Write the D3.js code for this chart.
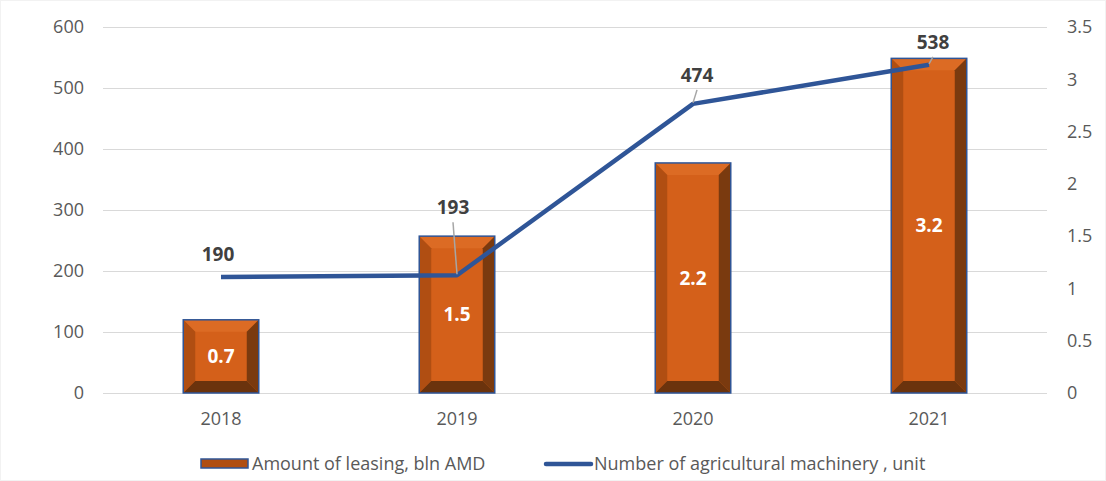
<!DOCTYPE html>
<html><head><meta charset="utf-8">
<script src="https://cdn.jsdelivr.net/npm/d3@7"></script>
<style>body{margin:0;background:#fff}svg{display:block}text{font-family:"Open Sans","Noto Sans",sans-serif}</style>
</head><body>
<svg id="c" width="1106" height="481"></svg>
<script>
const years = ["2018","2019","2020","2021"];
const leasing = [0.7, 1.5, 2.2, 3.2];
const machinery = [190, 193, 474, 538];
const leftTicks = [0,100,200,300,400,500,600];
const rightTicks = [0,0.5,1,1.5,2,2.5,3,3.5];
const leasingName = "Amount of leasing, bln AMD";
const machineryName = "Number of agricultural machinery , unit";

const svg = d3.select("#c");
const m = {l:103, r:1047, t:27, b:393};
const x = d3.scaleBand().domain(years).range([m.l, m.r]).paddingInner(0.68).paddingOuter(0.34);
const yL = d3.scaleLinear().domain([0,600]).range([m.b, m.t]);
const yR = d3.scaleLinear().domain([0,3.5]).range([m.b, m.t]);

svg.append("rect").attr("x",0.5).attr("y",0.5).attr("width",1105).attr("height",480).attr("fill","#fff").attr("stroke","#f2f2f2");

svg.append("g").selectAll("line").data(leftTicks).join("line")
  .attr("x1",m.l).attr("x2",m.r).attr("y1",d=>yL(d)+0.5).attr("y2",d=>yL(d)+0.5)
  .attr("stroke","#d9d9d9").attr("stroke-width",1);

const gl = svg.append("g").attr("transform",`translate(${m.l-19},0)`)
  .call(d3.axisLeft(yL).tickValues(leftTicks).tickSize(0).tickPadding(0));
const gr = svg.append("g").attr("transform",`translate(${m.r+20},0)`)
  .call(d3.axisRight(yR).tickValues(rightTicks).tickSize(0).tickPadding(0).tickFormat(d3.format("")));
const gx = svg.append("g").attr("transform",`translate(0,${m.b+19})`)
  .call(d3.axisBottom(x).tickSize(0).tickPadding(0));
[gl,gr,gx].forEach(g=>{g.select(".domain").remove();g.selectAll("text").attr("fill","#595959").style("font-size","18px");});
gx.selectAll("text").attr("dy","0.71em");

const bw = x.bandwidth(), bev = 12;
const bars = svg.append("g").selectAll("g").data(years).join("g");
bars.each(function(d,i){
  const g = d3.select(this);
  const x0 = x(d), x1 = x0+bw, y0 = yR(leasing[i]), y1 = m.b;
  const b = Math.min(bev, (y1-y0)/3);
  g.append("rect").attr("x",x0).attr("y",y0).attr("width",bw).attr("height",y1-y0).attr("fill","#D4601A");
  g.append("polygon").attr("points",[[x0,y0],[x1,y0],[x1-b,y0+b],[x0+b,y0+b]].join(" ")).attr("fill","#DC6B24");
  g.append("polygon").attr("points",[[x0,y0],[x0+b,y0+b],[x0+b,y1-b],[x0,y1]].join(" ")).attr("fill","#B04E12");
  g.append("polygon").attr("points",[[x1,y0],[x1,y1],[x1-b,y1-b],[x1-b,y0+b]].join(" ")).attr("fill","#7A3A0F");
  g.append("polygon").attr("points",[[x0,y1],[x0+b,y1-b],[x1-b,y1-b],[x1,y1]].join(" ")).attr("fill","#6B330D");
  g.append("rect").attr("x",x0).attr("y",y0).attr("width",bw).attr("height",y1-y0).attr("fill","none").attr("stroke","#2F5597").attr("stroke-width",1.5);
  g.append("text").attr("x",x0+bw/2).attr("y",(y0+y1)/2).attr("dy","0.35em").attr("text-anchor","middle")
    .attr("fill","#fff").style("font-size","19px").style("font-weight","bold").text(leasing[i]);
});

const cx = d=>x(d)+bw/2;
const line = d3.line().x((d,i)=>cx(years[i])).y(d=>yL(d));
svg.append("path").datum(machinery).attr("d",line).attr("fill","none")
  .attr("stroke","#2F5597").attr("stroke-width",4.5).attr("stroke-linejoin","round");

const labOff = [[-3,-16,false],[-4,-61,true],[4,-22,true],[4,-16,true]];
machinery.forEach((v,i)=>{
  const px = cx(years[i]), py = yL(v);
  const [dx,dy,lead] = labOff[i];
  if(lead){
    svg.append("line").attr("x1",px+dx).attr("y1",py+dy+8).attr("x2",px).attr("y2",py-1)
      .attr("stroke","#a6a6a6").attr("stroke-width",1.5);
  }
  svg.append("text").attr("x",px+dx).attr("y",py+dy).attr("text-anchor","middle")
    .attr("fill","#404040").style("font-size","19px").style("font-weight","bold").text(v);
});

const lg = svg.append("g");
lg.append("rect").attr("x",201).attr("y",459).attr("width",47).attr("height",9).attr("fill","#B04E12").attr("stroke","#2F5597").attr("stroke-width",1.5);
lg.append("text").attr("x",252).attr("y",464).attr("dy","0.35em").attr("fill","#595959").style("font-size","18px").text(leasingName);
lg.append("line").attr("x1",546).attr("x2",591).attr("y1",464).attr("y2",464).attr("stroke","#2F5597").attr("stroke-width",4.5).attr("stroke-linecap","round");
lg.append("text").attr("x",594).attr("y",464).attr("dy","0.35em").attr("fill","#595959").style("font-size","18px").text(machineryName);
</script></body></html>
